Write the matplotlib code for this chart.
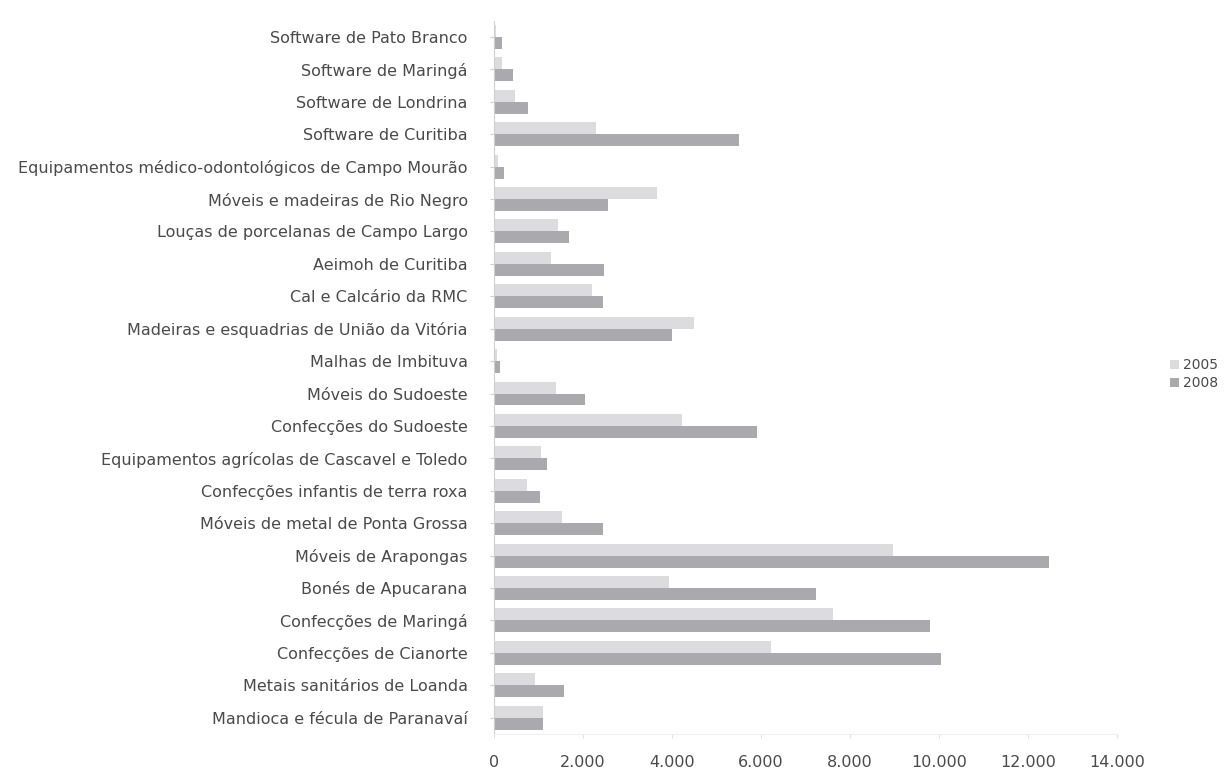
import matplotlib
matplotlib.use("Agg")
import matplotlib.pyplot as plt
import numpy as np

# categorias de baixo para cima (ordem do grafico)
categorias = [
    "Mandioca e fécula de Paranavaí",
    "Metais sanitários de Loanda",
    "Confecções de Cianorte",
    "Confecções de Maringá",
    "Bonés de Apucarana",
    "Móveis de Arapongas",
    "Móveis de metal de Ponta Grossa",
    "Confecções infantis de terra roxa",
    "Equipamentos agrícolas de Cascavel e Toledo",
    "Confecções do Sudoeste",
    "Móveis do Sudoeste",
    "Malhas de Imbituva",
    "Madeiras e esquadrias de União da Vitória",
    "Cal e Calcário da RMC",
    "Aeimoh de Curitiba",
    "Louças de porcelanas de Campo Largo",
    "Móveis e madeiras de Rio Negro",
    "Equipamentos médico-odontológicos de Campo Mourão",
    "Software de Curitiba",
    "Software de Londrina",
    "Software de Maringá",
    "Software de Pato Branco",
]
v2005 = [1090, 930, 6230, 7620, 3930, 8970, 1520, 740, 1050, 4220,
         1400, 70, 4500, 2200, 1270, 1430, 3660, 90, 2300, 470, 180, 50]
v2008 = [1090, 1580, 10050, 9800, 7240, 12460, 2450, 1040, 1190, 5900,
         2040, 130, 4000, 2440, 2470, 1690, 2560, 230, 5500, 770, 430, 180]
series = ["2005", "2008"]
ticks_x = [0, 2000, 4000, 6000, 8000, 10000, 12000, 14000]

C05, C08, TXT = "#dcdcdf", "#a9a9ae", "#4a4a4a"

fig = plt.figure(figsize=(12.29, 7.70), dpi=100)
ax = fig.add_axes([0.402, 0.047, 0.507, 0.926])

y = np.arange(len(categorias))
h = 0.37
ax.barh(y + h / 2, v2005, height=h, color=C05, label=series[0])
ax.barh(y - h / 2, v2008, height=h, color=C08, label=series[1])

ax.set_ylim(-0.5, len(categorias) - 0.5)
ax.set_xlim(0, 14000)
ax.set_yticks(y)
ax.set_yticklabels(categorias, fontsize=11.5, color=TXT)
ax.set_xticks(ticks_x)
ax.set_xticklabels([f"{t:,}".replace(",", ".") for t in ticks_x],
                   fontsize=11.5, color=TXT)

for s in ("top", "right"):
    ax.spines[s].set_visible(False)
ax.spines["left"].set_color("#cfcfcf")
ax.spines["bottom"].set_color("#f0f0f0")
ax.tick_params(axis="y", length=3, color="#cfcfcf", pad=16)
ax.tick_params(axis="x", length=3, color="#e0e0e0", pad=12)

fig.legend(loc="center left", bbox_to_anchor=(0.942, 0.514), frameon=False,
           fontsize=10, labelcolor=TXT, handlelength=0.6, handleheight=0.6,
           handletextpad=0.3, labelspacing=0.3)

fig.savefig("out.png", dpi=100)
